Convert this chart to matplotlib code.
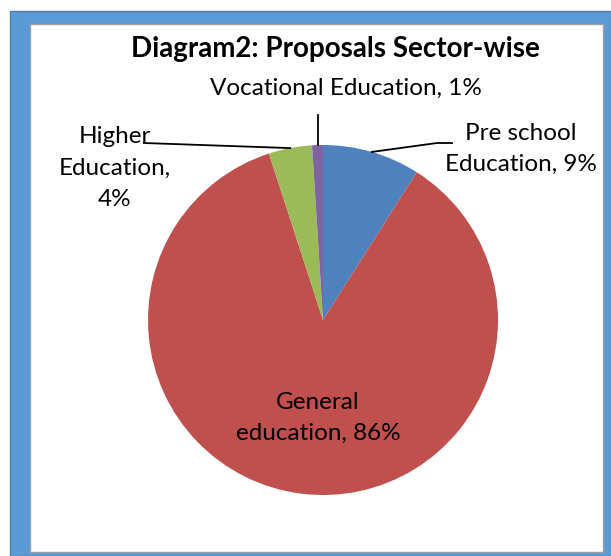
import numpy as np
import matplotlib
matplotlib.use("Agg")
import matplotlib.pyplot as plt
from matplotlib.patches import Rectangle

# data
sectors = ["Pre school Education", "General education", "Higher Education", "Vocational Education"]
shares = [9, 86, 4, 1]
labels = ["Pre school\nEducation, 9%", "General\neducation, 86%", "Higher\nEducation,\n4%",
          "Vocational Education, 1%"]
colors = ["#4F81BD", "#C0504D", "#9BBB59", "#8064A2"]
title = "Diagram2: Proposals Sector-wise"

W, H = 611, 556
plt.rcParams['font.family'] = ['Lato', 'DejaVu Sans']

fig = plt.figure(figsize=(W / 100, H / 100), dpi=100)
ax = fig.add_axes([0, 0, 1, 1])

def Y(y):
    # image pixel row -> data y
    return H - y

# frame around the chart
ax.add_patch(Rectangle((10, Y(556)), 601, 545, facecolor="#5B9BD5", edgecolor="#4A7EB0", lw=1))
ax.add_patch(Rectangle((30, Y(552)), 573, 528, facecolor="white", edgecolor="#A0A0A0", lw=1))

cx, cy, r = 323, Y(320), 175
wedges, _ = ax.pie(shares, colors=colors, startangle=90, counterclock=False,
                   center=(cx, cy), radius=r, frame=True,
                   wedgeprops=dict(linewidth=0))

ax.set_xlim(0, W)
ax.set_ylim(0, H)
ax.set_aspect("equal")
ax.axis("off")

# edge points of each slice (for leader lines)
cum = np.cumsum([0] + shares) / sum(shares)
mid = [(cum[i] + cum[i + 1]) / 2 for i in range(len(shares))]
edge = []
for m in mid:
    a = np.deg2rad(90 - 360 * m)
    edge.append((cx + r * np.cos(a), cy + r * np.sin(a)))

lc = "black"
fs = 17.5
ls = 1.6
# Pre school
ex, ey = edge[0]
ax.plot([ex, 437, 452], [ey, Y(143), Y(143)], color=lc, lw=1.3)
ax.text(521, Y(149), labels[0], ha="center", va="center", fontsize=fs, linespacing=ls)
# General
ax.text(318, Y(418), labels[1], ha="center", va="center", fontsize=fs, linespacing=ls)
# Higher
ex, ey = edge[2]
ax.plot([ex, 144], [ey, Y(143)], color=lc, lw=1.3)
ax.text(115, Y(168), labels[2], ha="center", va="center", fontsize=fs, linespacing=ls)
# Vocational
ex, ey = edge[3]
ax.plot([ex, ex], [ey, Y(115)], color=lc, lw=1.3)
ax.text(346, Y(88), labels[3], ha="center", va="center", fontsize=fs)

ax.text(335, Y(49), title, ha="center", va="center", fontsize=20, fontweight="bold")

fig.savefig("out.png", dpi=100)
